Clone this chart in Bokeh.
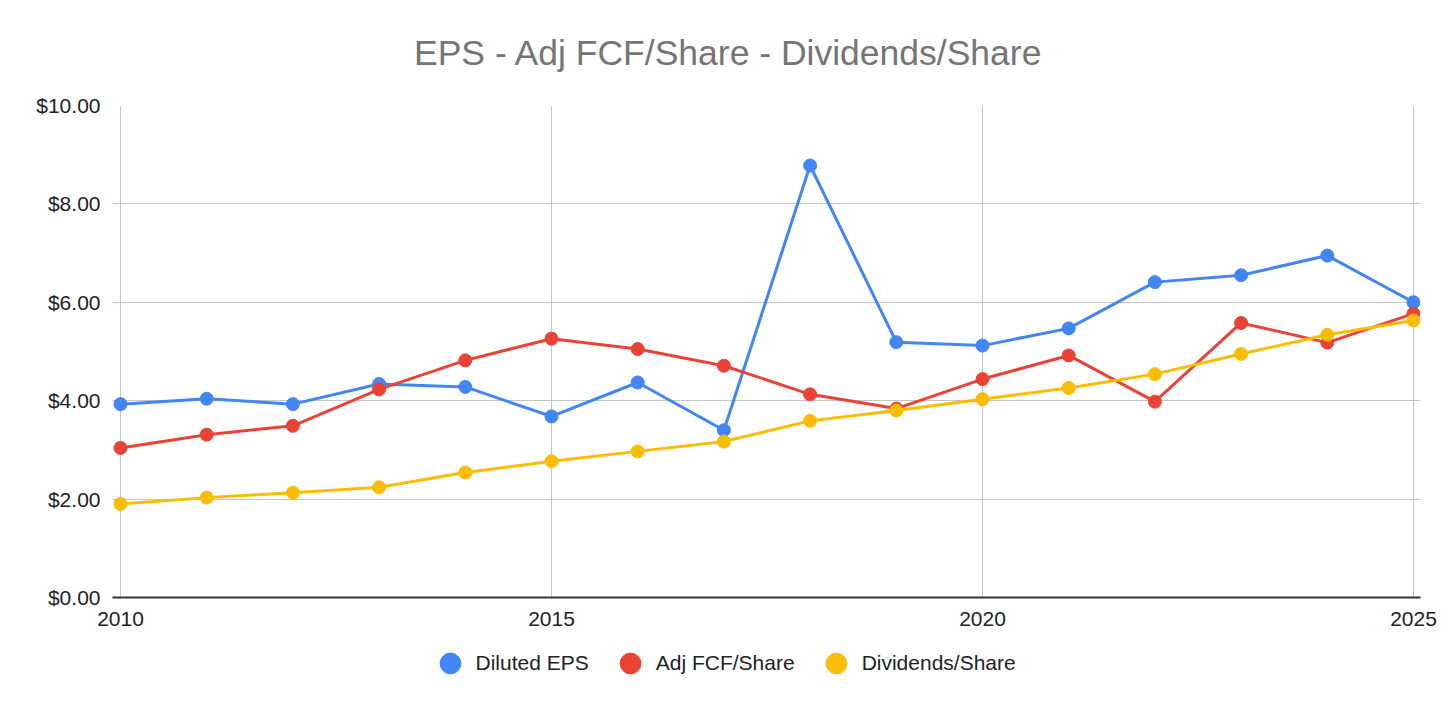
from bokeh.plotting import figure
from bokeh.layouts import column
from bokeh.models import (Legend, LegendItem, NumeralTickFormatter,
                          FixedTicker, Range1d, ColumnDataSource)
from bokeh.embed import file_html
from bokeh.resources import INLINE

years = list(range(2010, 2026))
diluted_eps = [3.93, 4.04, 3.93, 4.34, 4.28, 3.68, 4.37, 3.40, 8.78, 5.19,
               5.12, 5.47, 6.41, 6.55, 6.95, 6.00]
adj_fcf_share = [3.04, 3.31, 3.49, 4.23, 4.82, 5.26, 5.05, 4.71, 4.13, 3.84,
                 4.44, 4.92, 3.98, 5.58, 5.18, 5.77]
dividends_share = [1.90, 2.03, 2.13, 2.24, 2.54, 2.77, 2.97, 3.17, 3.59, 3.80,
                   4.03, 4.26, 4.54, 4.95, 5.34, 5.63]
series_names = ["Diluted EPS", "Adj FCF/Share", "Dividends/Share"]
series_colors = ["#4285F4", "#EA4335", "#FBBC04"]
x_ticks = [2010, 2015, 2020, 2025]
y_ticks = [0, 2, 4, 6, 8, 10]
title_text = "EPS - Adj FCF/Share - Dividends/Share"

FONT = "Liberation Sans"

p = figure(width=1450, height=637, output_backend="svg", toolbar_location=None,
           x_range=Range1d(2009.9072, 2025.0812), y_range=Range1d(0, 10),
           min_border_left=112, min_border_right=30, min_border_top=105,
           min_border_bottom=40)
p.outline_line_color = None
p.background_fill_color = "white"
p.border_fill_color = "white"

# title
p.title.text = title_text
p.title.align = "left"
p.title.offset = 301.5
p.title.vertical_align = "top"
p.title.standoff = 62
p.title.text_font = FONT
p.title.text_font_size = "35.5px"
p.title.text_font_style = "normal"
p.title.text_color = "#757575"

# grid
p.xgrid.ticker = FixedTicker(ticks=x_ticks)
p.ygrid.ticker = FixedTicker(ticks=y_ticks)
for g in (p.xgrid, p.ygrid):
    g.grid_line_color = "#c4c4c4"
    g.grid_line_width = 1

# axes
p.xaxis.ticker = FixedTicker(ticks=x_ticks)
p.yaxis.ticker = FixedTicker(ticks=y_ticks)
p.yaxis.formatter = NumeralTickFormatter(format="$0.00")
p.yaxis.axis_line_color = None
p.xaxis.axis_line_color = "#333333"
p.xaxis.axis_line_width = 2
for ax in (p.xaxis, p.yaxis):
    ax.major_tick_line_color = None
    ax.minor_tick_line_color = None
    ax.major_tick_out = 0
    ax.major_tick_in = 0
    ax.major_label_text_font = FONT
    ax.major_label_text_font_size = "21px"
    ax.major_label_text_color = "#222222"
p.yaxis.major_label_standoff = 12
p.xaxis.major_label_standoff = 14

series_values = [diluted_eps, adj_fcf_share, dividends_share]
for vals, col in zip(series_values, series_colors):
    src = ColumnDataSource(dict(x=years, y=vals))
    p.line("x", "y", source=src, line_color=col, line_width=3)
    p.scatter("x", "y", source=src, size=13, fill_color=col, line_color=col)

# legend strip below the chart (its renderers' data lie outside its range,
# so only the legend entries show)
lg = figure(width=1450, height=52, output_backend="svg", toolbar_location=None,
            x_range=Range1d(0, 1), y_range=Range1d(0, 1),
            x_axis_location=None, y_axis_location=None,
            min_border_left=0, min_border_right=0, min_border_top=0,
            min_border_bottom=0)
lg.outline_line_color = None
lg.xgrid.visible = False
lg.ygrid.visible = False
lg.background_fill_color = "white"
lg.border_fill_color = "white"

items = []
for name, vals, col in zip(series_names, series_values, series_colors):
    proxy = lg.scatter(x=years, y=vals, size=13, fill_color=col, line_color=col)
    items.append(LegendItem(label=name, renderers=[proxy]))

legend = Legend(items=items, orientation="horizontal", location=(311.5, 0),
                glyph_width=52, glyph_height=52, label_standoff=0, spacing=15,
                padding=0, margin=0, border_line_color=None,
                background_fill_alpha=0, label_text_font=FONT,
                label_text_font_size="21px", label_text_color="#222222")
lg.add_layout(legend)

layout = column(p, lg, spacing=0)
open("out.html", "w").write(file_html(layout, INLINE))
